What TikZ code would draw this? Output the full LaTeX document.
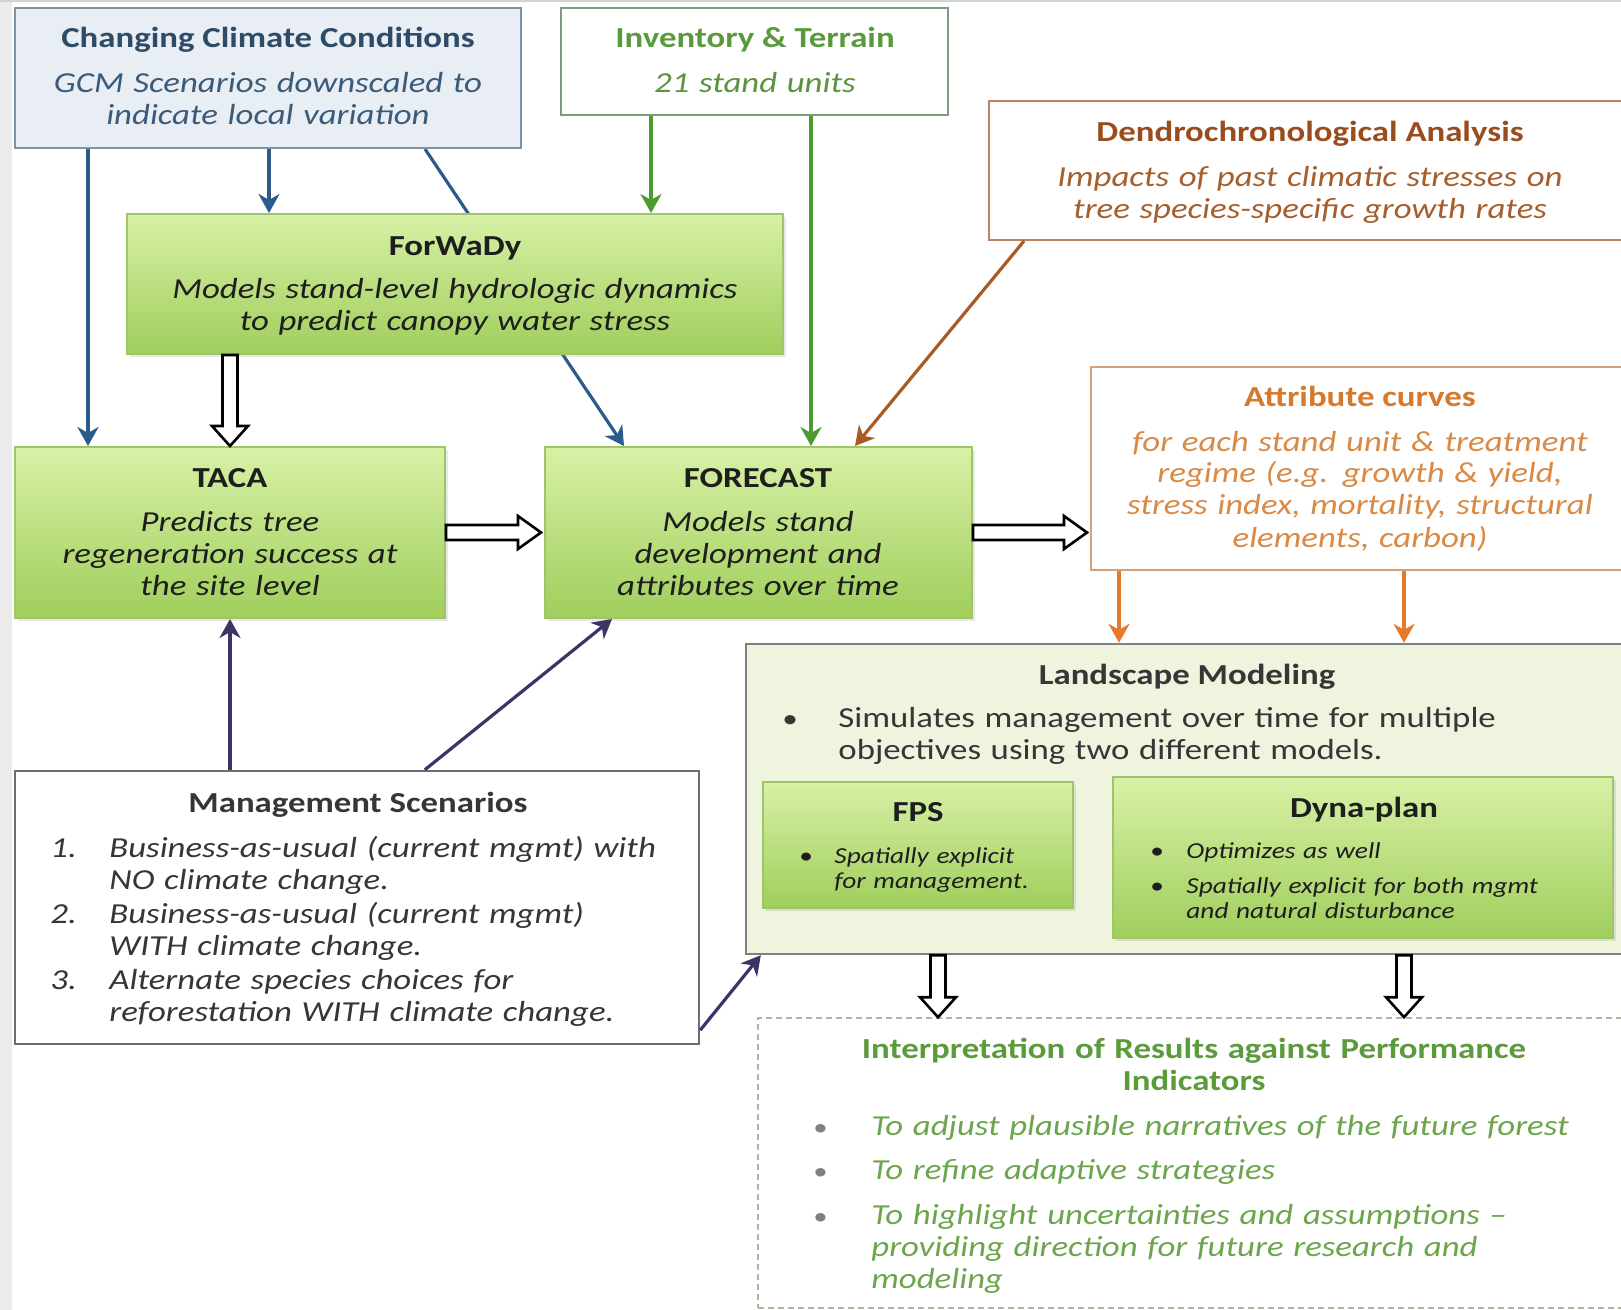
\documentclass[tikz,border=0pt]{standalone}
\usepackage{fontspec}
\setmainfont{Carlito}[FakeStretch=1.2]
\usetikzlibrary{arrows.meta,fit,calc,shadows}
\pgfdeclarelayer{bg}
\pgfsetlayers{bg,main}
\definecolor{climfill}{HTML}{E8EEF4}
\definecolor{climdraw}{HTML}{7F91A6}
\definecolor{climtitle}{HTML}{2E4B68}
\definecolor{climtext}{HTML}{3B5B7A}
\definecolor{invdraw}{HTML}{7E9C7E}
\definecolor{invtitle}{HTML}{5A9A3C}
\definecolor{invtext}{HTML}{5C9340}
\definecolor{dendraw}{HTML}{B88462}
\definecolor{dentitle}{HTML}{994D1E}
\definecolor{dentext}{HTML}{A65E2C}
\definecolor{attrdraw}{HTML}{D2A27E}
\definecolor{attrtitle}{HTML}{D47A2E}
\definecolor{attrtext}{HTML}{D98A45}
\definecolor{gtop}{HTML}{D8F1A6}
\definecolor{gbot}{HTML}{A0CE5C}
\definecolor{gdraw}{HTML}{9FC46C}
\definecolor{landfill}{HTML}{EEF4DE}
\definecolor{landdraw}{HTML}{808080}
\definecolor{mgmtdraw}{HTML}{6E6E6E}
\definecolor{intdraw}{HTML}{AAB99C}
\definecolor{inttitle}{HTML}{5B9B3B}
\definecolor{inttext}{HTML}{6CA54C}
\definecolor{ablue}{HTML}{2D5A8C}
\definecolor{agreen}{HTML}{4C9B31}
\definecolor{abrown}{HTML}{A95B25}
\definecolor{aorange}{HTML}{E57A2A}
\definecolor{anavy}{HTML}{3A3566}
\definecolor{darktext}{HTML}{1E1E1E}
\definecolor{greytext}{HTML}{363636}
\newcommand\blkdown[2]{\draw[blk] let \p1=#1, \p2=#2 in
  (\x1-3.75pt,\y1) -- (\x1-3.75pt,\y2+10pt) -- (\x1-9pt,\y2+10pt) -- (\x1,\y2)
  -- (\x1+9pt,\y2+10pt) -- (\x1+3.75pt,\y2+10pt) -- (\x1+3.75pt,\y1) -- cycle;}
\newcommand\blkright[2]{\draw[blk] let \p1=#1, \p2=#2 in
  (\x1,\y1-3.75pt) -- (\x2-11.5pt,\y1-3.75pt) -- (\x2-11.5pt,\y1-8.25pt) -- (\x2,\y1)
  -- (\x2-11.5pt,\y1+8.25pt) -- (\x2-11.5pt,\y1+3.75pt) -- (\x1,\y1+3.75pt) -- cycle;}
\tikzset{
  boxbase/.style={inner sep=0pt, line width=1pt},
  gbox/.style={boxbase, draw=gdraw, top color=gtop, bottom color=gbot,
     drop shadow={opacity=0.18, shadow xshift=1.5pt, shadow yshift=-1.5pt}},
  ttl/.style={anchor=base, inner sep=0pt, font=\bfseries\fontsize{14.5}{16}\selectfont},
  bdy/.style={anchor=base, inner sep=0pt, align=center, font=\itshape\fontsize{14.5}{16}\selectfont},
  lbdy/.style={anchor=base west, inner sep=0pt, align=left, font=\itshape\fontsize{14.5}{16}\selectfont},
  sbdy/.style={anchor=base west, inner sep=0pt, align=left, font=\itshape\fontsize{11.4}{12.5}\selectfont},
  thin/.style={line width=1.6pt, -{Stealth[length=9.5pt,width=10.5pt,inset=3pt]}},
  blk/.style={draw=black, fill=white, line width=1.3pt, line join=miter},
}
\begin{document}
\begin{tikzpicture}[x=0.5pt,y=-0.5pt]
\useasboundingbox (0,0) rectangle (1621,1310);
\fill[gray!16] (0,0) rectangle (12,1310);
\draw[gray!35, line width=1pt] (0,1) -- (1621,1);

% helper x positions
\coordinate (x88) at (88,0);
\coordinate (x269) at (269,0);
\coordinate (x651) at (651,0);
\coordinate (x811) at (811,0);
\coordinate (x1119) at (1119,0);
\coordinate (x1404) at (1404,0);
\coordinate (x938) at (938,0);

% ---------- boxes ----------
\node[boxbase, draw=climdraw, fill=climfill, fit={(15,8) (521,148)}] (clim) {};
\node[boxbase, draw=invdraw, fill=white, fit={(561,8) (948,115)}] (inv) {};
\node[boxbase, draw=dendraw, fill=white, fit={(989,101) (1640,240)}] (dendro) {};
\node[gbox, fit={(15,447) (445,618)}] (taca) {};
\node[gbox, fit={(545,447) (972,618)}] (forecast) {};
\node[boxbase, draw=attrdraw, fill=white, fit={(1091,367) (1640,570)}] (attr) {};
\node[boxbase, draw=landdraw, fill=landfill, line width=1.2pt, fit={(746,644) (1640,954)}] (land) {};
\node[gbox, fit={(763,782) (1073,908)}] (fps) {};
\node[gbox, fit={(1113,777) (1613,938)}] (dyna) {};
\node[boxbase, draw=mgmtdraw, fill=white, line width=1.2pt, fit={(15,771) (699,1044)}] (mgmt) {};
\node[boxbase, draw=intdraw, fill=white, line width=0.8pt, dash pattern=on 3pt off 2pt, fit={(758,1018) (1640,1308)}] (interp) {};

% arrow passing behind ForWaDy
\begin{pgfonlayer}{bg}
\draw[thin, ablue] ($(clim.south west)+(411,0)$) -- ($(forecast.north west)+(80,0)$);
\end{pgfonlayer}
\node[gbox, fit={(127,214) (783,354)}] (forwady) {};

% ---------- texts ----------
\begin{scope}[yshift=-1.5pt]
\node[ttl, text=climtitle] (climT) at (268,45) {Changing Climate Conditions};
\node[bdy, text=climtext, text width=250pt] (climB) at (268,90) {GCM Scenarios downscaled to\\indicate local variation};

\node[ttl, text=invtitle] (invT) at (755,45) {Inventory \& Terrain};
\node[bdy, text=invtext, text width=190pt] (invB) at (755,90) {21 stand units};

\node[ttl, text=dentitle] (denT) at (1310,139) {Dendrochronological Analysis};
\node[bdy, text=dentext, text width=300pt] (denB) at (1310,184) {Impacts of past climatic stresses on\\tree species-specific growth rates};

\node[ttl, text=darktext] (forT) at (455,253) {ForWaDy};
\node[bdy, text=darktext, text width=320pt] (forB) at (455,296) {Models stand-level hydrologic dynamics\\to predict canopy water stress};

\node[ttl, text=darktext] (tacaT) at (230,484) {TACA};
\node[bdy, text=darktext, text width=210pt] (tacaB) at (230,528) {Predicts tree\\regeneration success at\\the site level};

\node[ttl, text=darktext] (fcT) at (758,484) {FORECAST};
\node[bdy, text=darktext, text width=210pt] (fcB) at (758,528) {Models stand\\development and\\attributes over time};

\node[ttl, text=attrtitle] (attrT) at (1360,404) {Attribute curves};
\node[bdy, text=attrtext, text width=260pt] (attrB) at (1360,448) {for each stand unit \& treatment\\regime (e.g. growth \& yield,\\stress index, mortality, structural\\elements, carbon)};

\node[ttl, text=greytext] (landT) at (1187,681) {Landscape Modeling};
\node[lbdy, font=\fontsize{13}{16}\selectfont, text=greytext] (landD) at (782,724) {•};
\node[lbdy, font=\fontsize{14.5}{16}\selectfont, text=greytext, text width=380pt] (landB) at (838,724) {Simulates management over time for multiple\\objectives using two different models.};

\node[ttl, text=darktext] (fpsT) at (918,818) {FPS};
\node[sbdy, font=\fontsize{11.4}{12.5}\selectfont, text=darktext] (fpsD) at (799,860) {•};
\node[sbdy, text=darktext, text width=130pt] (fpsB) at (834,860) {Spatially explicit\\for management.};

\node[ttl, text=darktext] (dynaT) at (1364,814) {Dyna-plan};
\node[sbdy, font=\fontsize{11.4}{12.5}\selectfont, text=darktext] (dynaD1) at (1150,855) {•};
\node[sbdy, font=\fontsize{11.4}{12.5}\selectfont, text=darktext] (dynaD2) at (1150,890) {•};
\node[sbdy, text=darktext, text width=200pt] (dynaB1) at (1186,855) {Optimizes as well};
\node[sbdy, text=darktext, text width=200pt] (dynaB2) at (1186,890) {Spatially explicit for both mgmt\\and natural disturbance};

\node[ttl, text=greytext] (mgT) at (358,809) {Management Scenarios};
\node[lbdy, text=greytext] (mgN1) at (50,854) {1.};
\node[lbdy, text=greytext] (mgN2) at (50,920) {2.};
\node[lbdy, text=greytext] (mgN3) at (50,986) {3.};
\node[lbdy, text=greytext, text width=300pt] (mgI1) at (109,854) {Business-as-usual (current mgmt) with\\NO climate change.};
\node[lbdy, text=greytext, text width=300pt] (mgI2) at (109,920) {Business-as-usual (current mgmt)\\WITH climate change.};
\node[lbdy, text=greytext, text width=300pt] (mgI3) at (109,986) {Alternate species choices for\\reforestation WITH climate change.};

\node[ttl, text=inttitle, align=center, text width=420pt] (intT) at (1194,1055) {Interpretation of Results against Performance\\Indicators};
\node[lbdy, font=\fontsize{12}{16}\selectfont, text=gray] (intD1) at (813,1132) {•};
\node[lbdy, font=\fontsize{12}{16}\selectfont, text=gray] (intD2) at (813,1176) {•};
\node[lbdy, font=\fontsize{12}{16}\selectfont, text=gray] (intD3) at (813,1221) {•};
\node[lbdy, text=inttext, text width=380pt] (intB1) at (871,1132) {To adjust plausible narratives of the future forest};
\node[lbdy, text=inttext, text width=380pt] (intB2) at (871,1176) {To refine adaptive strategies};
\node[lbdy, text=inttext, text width=380pt] (intB3) at (871,1221) {To highlight uncertainties and assumptions –\\providing direction for future research and\\modeling};
\end{scope}

% ---------- thin connectors ----------
\draw[thin, ablue] (clim.south -| x88) -- (taca.north -| x88);
\draw[thin, ablue] (clim.south -| x269) -- (forwady.north -| x269);
\draw[thin, agreen] (inv.south -| x651) -- (forwady.north -| x651);
\draw[thin, agreen] (inv.south -| x811) -- (forecast.north -| x811);
\draw[thin, abrown] ($(dendro.south west)+(36,0)$) -- ($(forecast.north west)+(311,0)$);
\draw[thin, aorange] (attr.south -| x1119) -- (land.north -| x1119);
\draw[thin, aorange] (attr.south -| x1404) -- (land.north -| x1404);
\draw[thin, anavy] (mgmt.north -| taca.south) -- (taca.south);
\draw[thin, anavy] ($(mgmt.north west)+(411,0)$) -- ($(forecast.south west)+(68,0)$);
\draw[thin, anavy] ($(mgmt.south east)+(0,-15)$) -- ($(land.south west)+(16,0)$);

% ---------- block connectors ----------
\blkdown{(forwady.south -| taca.north)}{(taca.north)}
\blkright{(taca.east)}{($(forecast.west)+(-3,0)$)}
\blkright{(forecast.east)}{($(attr.west)+(-3,0)$)}
\blkdown{(land.south -| x938)}{(interp.north -| x938)}
\blkdown{(land.south -| x1404)}{(interp.north -| x1404)}
\end{tikzpicture}
\end{document}
